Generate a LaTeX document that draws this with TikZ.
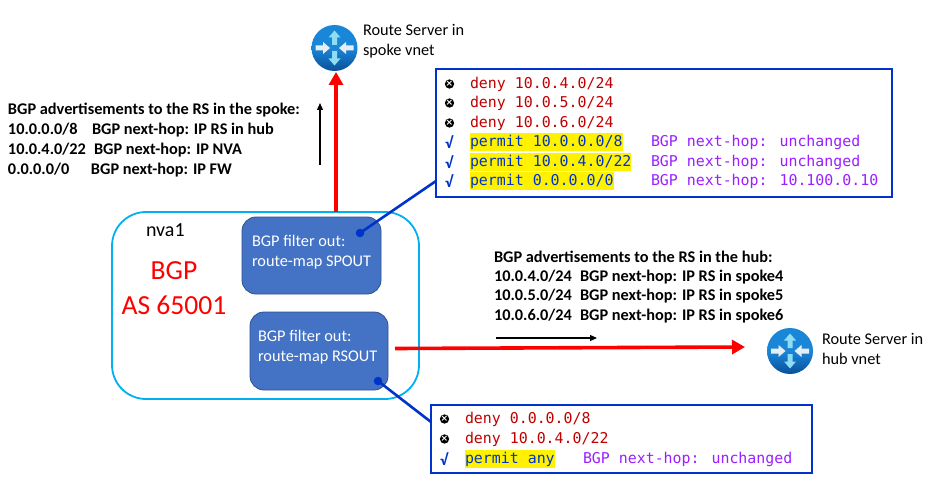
\documentclass[tikz,border=0pt]{standalone}
\usepackage{fontspec}
\setmainfont{Carlito}
\newfontfamily\codefont{DejaVu Sans Mono}
\newfontfamily\symfont{DejaVu Sans}
\usetikzlibrary{arrows.meta,positioning,calc}
\definecolor{boxblue}{HTML}{0033CC}
\definecolor{fillblue}{HTML}{4472C4}
\definecolor{edgeblue}{HTML}{2F528F}
\definecolor{cyanline}{HTML}{00B0F0}
\definecolor{dred}{HTML}{C00000}
\definecolor{dblue}{HTML}{0033CC}
\definecolor{purp}{HTML}{9B1FFF}
\definecolor{iconlight}{HTML}{1A86D8}
\definecolor{icondark}{HTML}{0A4F9A}
\definecolor{arrowcyan}{HTML}{8FDDF5}
\definecolor{arrowgrey}{HTML}{E8EDF2}
\tikzset{
  x=1pt,y=-1pt,
  every node/.style={inner sep=0pt,outer sep=0pt},
  txt/.style={anchor=west,font=\fontsize{16.3}{20}\selectfont,align=left},
  bold/.style={anchor=west,font=\fontsize{16.3}{18}\selectfont\bfseries},
  code/.style={anchor=west,font=\fontsize{14.9}{18}\selectfont\codefont,text height=13.5pt,text depth=5pt},
  hl/.style={code,fill=yellow,text=dblue},
  deny/.style={code,text=dred},
  hop/.style={code,text=purp},
  xmark/.style={anchor=center,circle,fill=black,minimum size=8.5pt,text=white,font=\fontsize{9}{9}\selectfont\symfont\bfseries},
  vmark/.style={anchor=center,text=dblue,font=\fontsize{16}{16}\selectfont\bfseries},
  listbox/.style={draw=boxblue,line width=1.8pt,fill=white},
  filterbox/.style={draw=edgeblue,line width=0.8pt,fill=fillblue,rounded corners=14pt},
  flow/.style={draw=red,line width=3.6pt,-{Triangle[length=13pt,width=14pt]}},
  small/.style={draw=black,line width=1.2pt,-{Triangle[length=7pt,width=6pt]}},
  link/.style={draw=boxblue,line width=2.6pt},
  dot/.style={circle,fill=boxblue,minimum size=8.5pt},
}
\newcommand{\iconarrow}[3]{%
  \fill[#3,shift={(#1)},rotate=#2]
    (0,-2.5) -- (7.5,-2.5) -- (7.5,-6) -- (14.5,0) -- (7.5,6) -- (7.5,2.5) -- (0,2.5) -- cycle;}
\newcommand{\routeicon}[2]{%
  \node[circle,minimum size=46pt,top color=iconlight,bottom color=icondark,middle color=iconlight] (#2) at (#1) {};
  \iconarrow{$(#1)+(-19,0)$}{0}{arrowgrey}
  \iconarrow{$(#1)+(19,0)$}{180}{arrowgrey}
  \iconarrow{$(#1)+(0,-3)$}{90}{arrowcyan}
  \iconarrow{$(#1)+(0,3)$}{-90}{arrowcyan}
}
\begin{document}
\begin{tikzpicture}
\useasboundingbox (0,0) rectangle (932,484);
\fill[white] (0,0) rectangle (932,484);

% nva1 container
\node[draw=cyanline,line width=1.8pt,rounded corners=34pt,minimum width=307pt,minimum height=187pt,anchor=north west] (nva) at (112,212) {};
\coordinate (redUpStart) at (336,212);
\node[txt,font=\fontsize{20}{24}\selectfont] (nvalabel) at (146,230) {nva1};
\node[anchor=center,text=red,font=\fontsize{27.6}{35}\selectfont,align=center] (bgp) at (174,288) {BGP\\AS 65001};

% filter boxes
\node[filterbox,minimum width=139pt,minimum height=77pt,anchor=north west] (spout) at (242,217) {};
\node[txt,text=white] (spouttext) at (252,252) {BGP filter out:\\route-map SPOUT};
\node[filterbox,minimum width=138pt,minimum height=78pt,anchor=north west] (rsout) at (250,312) {};
\node[txt,text=white] (rsouttext) at (258,347) {BGP filter out:\\route-map RSOUT};

% icons
\routeicon{334.5,48}{rsSpoke}
\routeicon{790,351}{rsHub}
\node[txt] (spokelabel) at (363,41) {Route Server in\\spoke vnet};
\node[txt] (hublabel) at (822,349) {Route Server in\\hub vnet};

% list boxes
\node[listbox,minimum width=456pt,minimum height=128pt,anchor=north west] (topbox) at (436,69) {};
\node[listbox,minimum width=381pt,minimum height=68pt,anchor=north west] (botbox) at (431,405) {};

% connectors
\coordinate (spoutdot) at (360,233);
\coordinate (rsoutdot) at (378,381);
\coordinate (topend) at (436,181);
\coordinate (botend) at (431,422);
\draw[link] (spoutdot) -- (topend);
\draw[link] (rsoutdot) -- (botend);
\node[dot] (d1) at (spoutdot) {};
\node[dot] (d2) at (rsoutdot) {};

\coordinate (redUpEnd) at (336,72);
\draw[flow] (redUpStart) -- (redUpEnd);
\coordinate (redRightStart) at (395,348.5);
\coordinate (redRightEnd) at (745,347);
\draw[flow] (redRightStart) -- (redRightEnd);
\coordinate (a1s) at (320,165); \coordinate (a1e) at (320,103);
\draw[small] (a1s) -- (a1e);
\coordinate (a2s) at (496,338); \coordinate (a2e) at (597,338);
\draw[small] (a2s) -- (a2e);

% left text
\node[bold] (l1) at (8,110) {BGP advertisements to the RS in the spoke:};
\node[bold] (l2) at (8,130) {\makebox[84pt][l]{10.0.0.0/8}BGP next-hop: IP RS in hub};
\node[bold] (l3) at (8,150) {\makebox[86pt][l]{10.0.4.0/22}BGP next-hop: IP NVA};
\node[bold] (l4) at (8,170) {\makebox[83pt][l]{0.0.0.0/0}BGP next-hop: IP FW};

% right text
\node[bold] (r1) at (494,257) {BGP advertisements to the RS in the hub:};
\node[bold] (r2) at (494,277) {\makebox[86pt][l]{10.0.4.0/24}BGP next-hop: IP RS in spoke4};
\node[bold] (r3) at (494,296) {\makebox[86pt][l]{10.0.5.0/24}BGP next-hop: IP RS in spoke5};
\node[bold] (r4) at (494,316) {\makebox[86pt][l]{10.0.6.0/24}BGP next-hop: IP RS in spoke6};

% top list
\node[xmark] (m1) at (449.5,84) {×};
\node[xmark] (m2) at (449.5,103) {×};
\node[xmark] (m3) at (449.5,123) {×};
\node[vmark] (m4) at (449,142) {√};
\node[vmark] (m5) at (449,162) {√};
\node[vmark] (m6) at (449,181) {√};
\node[deny] (t1) at (470,84) {deny 10.0.4.0/24};
\node[deny] (t2) at (470,103) {deny 10.0.5.0/24};
\node[deny] (t3) at (470,123) {deny 10.0.6.0/24};
\node[hl] (t4) at (470,142) {permit 10.0.0.0/8};
\node[hl] (t5) at (470,162) {permit 10.0.4.0/22};
\node[hl] (t6) at (470,181) {permit 0.0.0.0/0};
\node[hop] (h4) at (651,142) {BGP next-hop: unchanged};
\node[hop] (h5) at (651,162) {BGP next-hop: unchanged};
\node[hop] (h6) at (651,181) {BGP next-hop: 10.100.0.10};

% bottom list
\node[xmark] (b1) at (444.5,419) {×};
\node[xmark] (b2) at (444.5,439) {×};
\node[vmark] (b3) at (444,459) {√};
\node[deny] (u1) at (465,419) {deny 0.0.0.0/8};
\node[deny] (u2) at (465,439) {deny 10.0.4.0/22};
\node[hl] (u3) at (465,459) {permit any};
\node[hop] (h7) at (583,459) {BGP next-hop: unchanged};
\end{tikzpicture}
\end{document}
